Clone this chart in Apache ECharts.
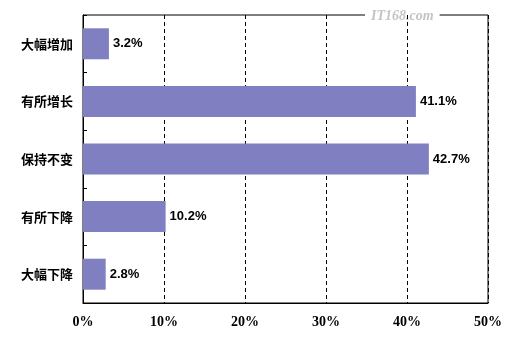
<!DOCTYPE html>
<html><head><meta charset="utf-8">
<script src="https://cdn.jsdelivr.net/npm/echarts@6/dist/echarts.min.js"></script>
<style>html,body{margin:0;padding:0;background:#fff}#c{width:520px;height:351px}</style>
</head><body><div id="c"></div>
<script>
const categories = ['大幅增加', '有所增长', '保持不变', '有所下降', '大幅下降'];
const values = [3.2, 41.1, 42.7, 10.2, 2.8];
const xTicks = [0, 10, 20, 30, 40, 50];

const chart = echarts.init(document.getElementById('c'), null, {renderer: 'canvas'});
chart.setOption({
  animation: false,
  backgroundColor: '#fff',
  grid: {left: 83, right: 32, top: 15, bottom: 48, show: true, borderColor: '#000', borderWidth: 1, containLabel: false},
  xAxis: {
    type: 'value', min: xTicks[0], max: xTicks[xTicks.length - 1], interval: 10,
    axisLine: {show: true, lineStyle: {color: '#000', width: 1}},
    axisTick: {show: false},
    splitLine: {show: true, lineStyle: {color: '#000', type: [4, 3], width: 1}},
    axisLabel: {formatter: v => v + '%', color: '#000', fontFamily: 'Liberation Serif', fontWeight: 'bold', fontSize: 14, margin: 12}
  },
  yAxis: {
    type: 'category', data: categories, inverse: true,
    axisLine: {show: true, lineStyle: {color: '#000', width: 1}},
    axisTick: {show: true, inside: true, length: 4, lineStyle: {color: '#000'}},
    axisLabel: {color: '#000', fontFamily: 'Noto Sans CJK SC', fontWeight: 'bold', fontSize: 13, margin: 10}
  },
  series: [{
    type: 'bar', data: values, barWidth: 31,
    itemStyle: {color: '#7F7FC1'},
    label: {show: true, position: 'right', distance: 4, formatter: p => p.value + '%', color: '#000', fontFamily: 'Liberation Sans', fontWeight: 'bold', fontSize: 13}
  }],
  graphic: [{
    type: 'text', left: 365, top: 7,
    style: {text: 'IT168.com', fill: '#c4c4c4', font: 'italic bold 14px Liberation Serif', backgroundColor: '#fff', padding: [2, 6]}
  }]
});
</script></body></html>
